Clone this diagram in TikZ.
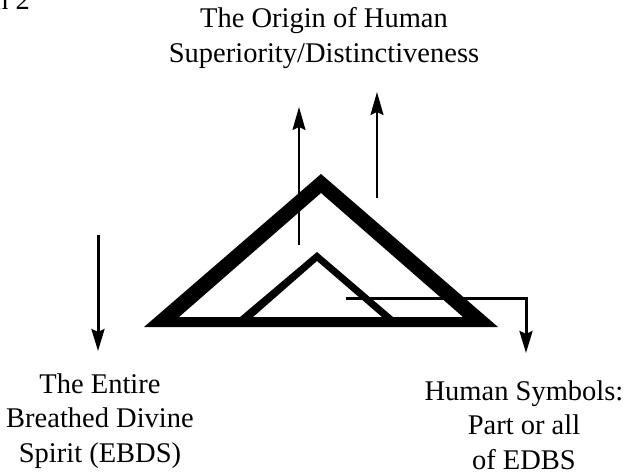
\documentclass[tikz,border=0pt]{standalone}
\usepackage{fontspec}
\setmainfont{Liberation Serif}
\usetikzlibrary{arrows.meta}
\begin{document}
\begin{tikzpicture}[x=1pt,y=-1pt,
  lbl/.style={align=center,anchor=base,inner sep=0pt,font=\fontsize{28.5}{34.5}\selectfont},
  thinarrow/.style={line width=2pt,-{Stealth[length=23pt,width=13pt,inset=3pt]}},
  thickarrow/.style={line width=3pt,-{Stealth[length=22pt,width=13pt,inset=3pt]}},
  ink/.style={fill=black,draw=none}]
\useasboundingbox (0,0) rectangle (626,474);
% partial caption at top-left
\node[lbl,anchor=base west] (cap) at (-6,9) {n 2};
% labels (base anchor = baseline of last line)
\node[lbl] (origin) at (324,62) {The Origin of Human\\Superiority/Distinctiveness};
\node[lbl] (ebds) at (100,462) {The Entire\\Breathed Divine\\Spirit (EBDS)};
\node[lbl] (symb) at (524,469) {Human Symbols:\\Part or all\\of EDBS};
% outer triangle
\path[ink,even odd rule] (144,327) -- (321,174) -- (498,327) -- cycle
  (179,317) -- (321,193) -- (463,317) -- cycle;
% inner triangle
\path[ink] (236.5,320) -- (317,252) -- (396.5,320) -- (385.5,320) -- (317,261) -- (249.6,320) -- cycle;
% arrows
\coordinate (l1) at (98,235); \coordinate (l2) at (98,351);
\coordinate (u1a) at (299,245); \coordinate (u1b) at (299,107);
\coordinate (u2a) at (377,198); \coordinate (u2b) at (377,92);
\coordinate (r1) at (346,298); \coordinate (r2) at (526,298); \coordinate (r3) at (526,353);
\draw[thickarrow] (l1) -- (l2);
\draw[thinarrow] (u1a) -- (u1b);
\draw[thinarrow] (u2a) -- (u2b);
\draw[thickarrow] (r1) -- (r2) -- (r3);
\end{tikzpicture}
\end{document}
